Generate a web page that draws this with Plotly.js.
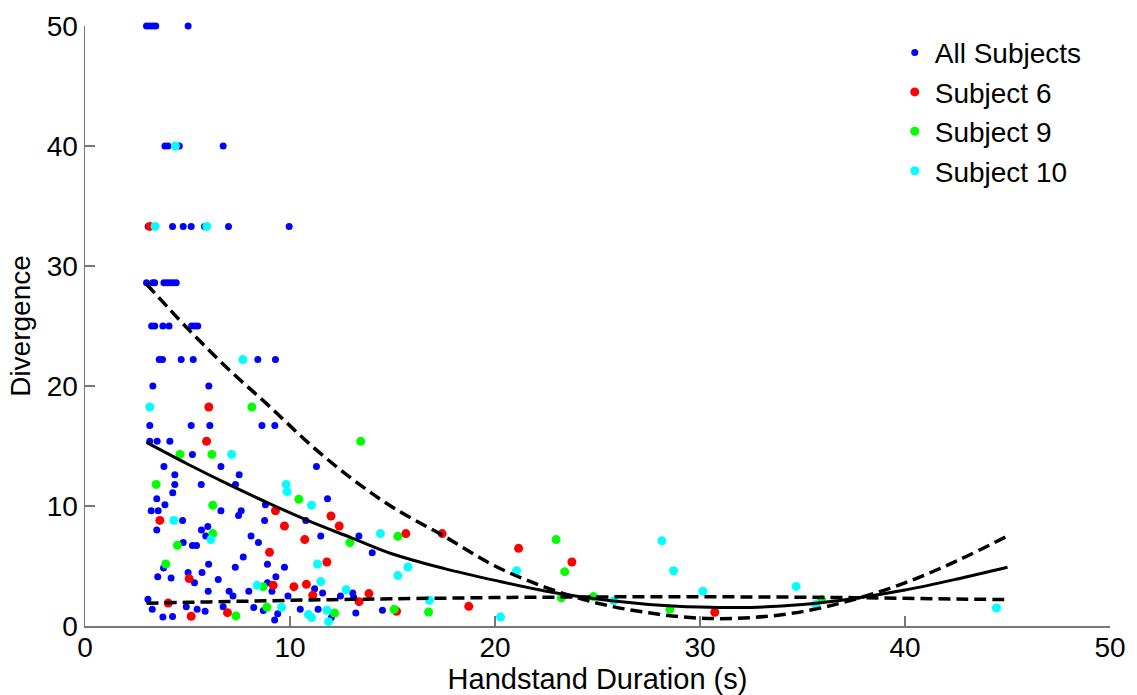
<!DOCTYPE html>
<html>
<head>
<meta charset="utf-8">
<script src="https://cdn.plot.ly/plotly-3.0.1.min.js"></script>
<style>html,body{margin:0;padding:0;background:#fff;}#chart{width:1137px;height:695px;}</style>
</head>
<body>
<div id="chart"></div>
<script>
// ---- Data ----
const allX = [3.0,3.15,3.3,3.45,5.03,
  3.9,4.05,4.6,6.74,
  3.08,4.27,4.79,5.18,5.83,7.0,9.96,
  3.0,3.3,3.4,3.85,4.0,4.15,4.3,4.45,
  3.25,3.4,3.8,4.1,5.2,5.35,5.5,
  3.62,3.78,4.69,5.28,8.43,9.29,
  3.31,6.04,
  3.16,5.18,6.09,8.63,9.26,
  3.16,3.52,4.14,
  5.24,
  3.85,6.63,11.29,
  4.38,7.52,
  4.38,5.67,7.34,
  4.28,
  3.5,11.83,
  3.9,8.8,
  3.23,3.57,6.63,7.62,
  7.49,
  4.76,8.76,10.77,
  5.99,
  3.5,5.68,
  5.89,8.1,11.5,13.36,
  4.79,8.46,
  5.24,5.44,
  14.01,
  7.72,
  6.03,8.9,
  9.73,7.33,
  3.83,
  5.03,5.71,
  9.31,3.55,
  4.2,
  6.5,
  5.34,8.9,
  11.2,
  6.01,7.03,7.99,9.12,
  11.59,13.06,
  9.9,7.22,12.46,
  13.11,
  3.07,
  4.94,6.74,
  8.23,
  5.47,10.5,11.37,3.28,8.7,
  14.51,
  5.86,
  13.21,
  9.4,
  4.27,
  3.8,
  12.02,
  9.25];
const allY = [50,50,50,50,50,
  40,40,40,40,
  33.3,33.3,33.3,33.3,33.3,33.3,33.3,
  28.6,28.6,28.6,28.6,28.6,28.6,28.6,28.6,
  25,25,25,25,25,25,25,
  22.2,22.2,22.2,22.2,22.2,22.2,
  20,20,
  16.7,16.7,16.7,16.7,16.7,
  15.4,15.4,15.4,
  14.3,
  13.3,13.3,13.3,
  12.6,12.6,
  11.8,11.8,11.8,
  11.1,
  10.6,10.6,
  10.1,10.1,
  9.6,9.6,9.6,9.6,
  9.2,
  8.8,8.8,8.8,
  8.3,
  8.0,8.0,
  7.5,7.5,7.5,7.5,
  6.95,6.95,
  6.7,6.7,
  6.1,
  5.75,
  5.15,5.15,
  4.9,4.9,
  4.83,
  4.45,4.45,
  4.1,4.1,
  4.0,
  3.87,
  3.6,3.6,
  3.1,
  2.9,2.9,2.9,2.9,
  2.75,2.75,
  2.5,2.5,2.5,
  2.37,
  2.22,
  1.6,1.6,
  1.55,
  1.4,1.4,1.4,1.4,1.3,
  1.31,
  1.22,
  1.08,
  1.03,
  0.8,
  0.74,
  0.7,
  0.5];

const s6X = [3.16,6.04,5.93,9.29,12.0,3.65,9.73,12.4,10.72,9.0,11.8,5.08,9.18,10.19,10.8,11.11,4.06,5.18,6.95,13.85,13.37,15.2,15.65,17.42,18.72,21.15,23.75,30.72];
const s6Y = [33.3,18.25,15.4,9.6,9.17,8.8,8.33,8.33,7.2,6.14,5.33,3.95,3.39,3.28,3.47,2.56,1.92,0.81,1.11,2.7,2.03,1.22,7.7,7.7,1.64,6.47,5.33,1.15];

const s9X = [8.14,4.63,6.19,3.47,10.43,6.23,6.23,4.51,3.94,8.69,7.36,8.87,13.45,12.92,15.26,12.17,15.08,16.76,22.98,23.4,23.24,24.8,28.53,35.93];
const s9Y = [18.25,14.3,14.3,11.8,10.56,10.06,7.7,6.73,5.17,3.28,0.84,1.56,15.4,6.95,7.47,1.08,1.39,1.17,7.2,4.53,2.34,2.45,1.39,2.2];

const s10X = [4.41,3.42,5.94,7.7,3.16,7.15,9.81,9.86,11.05,4.33,6.14,11.34,11.5,8.4,9.59,10.9,11.05,11.8,11.88,14.41,15.26,15.75,12.74,16.8,20.27,21.05,25.8,28.14,28.71,30.14,34.69,35.65,44.46];
const s10Y = [40,33.3,33.3,22.2,18.25,14.3,11.8,11.2,10.06,8.8,7.2,5.17,3.7,3.39,1.56,0.95,0.7,1.31,0.36,7.7,4.2,4.92,3.03,2.14,0.75,4.6,2.1,7.1,4.6,2.9,3.3,1.8,1.5];

// fitted curves
const fitX = [3,5,7,9,11,13,15,17.5,20,22.5,25,27.5,30,32.5,35,37.5,40,42.5,45];
const fitAllY = [15.3,13.5,11.8,10.2,8.7,7.35,6.0,4.8,3.8,2.9,2.25,1.8,1.58,1.55,1.8,2.3,3.0,3.9,4.9];
const fitSteepY = [28.5,24.8,21.4,18.3,15.1,12.3,9.9,7.5,5.0,3.2,1.9,1.1,0.65,0.7,1.2,2.2,3.6,5.4,7.5];
const fitFlatY = [1.9,1.97,2.04,2.1,2.17,2.22,2.27,2.32,2.37,2.4,2.42,2.44,2.44,2.42,2.4,2.36,2.31,2.25,2.2];

const legendNames = ['All Subjects','Subject 6','Subject 9','Subject 10'];
const xTicks = [0,10,20,30,40,50];
const yTicks = [0,10,20,30,40,50];

const FONT = 'Liberation Sans, Arial, sans-serif';

function pts(x, y, name, color, size) {
  return {x: x, y: y, name: name, type: 'scatter', mode: 'markers', cliponaxis: false,
    marker: {color: color, size: size, line: {width: 0}}};
}
function fit(y, dash, width) {
  return {x: fitX, y: y, type: 'scatter', mode: 'lines', showlegend: false, hoverinfo: 'skip',
    line: {color: '#000', width: width, dash: dash, shape: 'spline'}};
}

const data = [
  pts(allX, allY, legendNames[0], '#0000ff', 7),
  pts(s6X, s6Y, legendNames[1], '#ff0000', 9),
  pts(s9X, s9Y, legendNames[2], '#00ff00', 9),
  pts(s10X, s10Y, legendNames[3], '#00ffff', 9),
  fit(fitAllY, 'solid', 3),
  fit(fitSteepY, '12px,6px', 3.5),
  fit(fitFlatY, '12px,6px', 3.5)
];

const axisCommon = {
  range: [0, 50], showgrid: false, zeroline: false, showline: true,
  linecolor: '#777', linewidth: 1.5, ticks: 'inside', ticklen: 10, tickwidth: 1.5,
  tickcolor: '#777', tickfont: {family: FONT, size: 28, color: '#000'}
};

const layout = {
  width: 1137, height: 695,
  margin: {l: 85, r: 27, t: 26, b: 69},
  paper_bgcolor: '#fff', plot_bgcolor: '#fff',
  font: {family: FONT, color: '#000'},
  showlegend: true,
  legend: {x: 0.79, y: 0.997, xanchor: 'left', yanchor: 'top', bgcolor: 'rgba(0,0,0,0)',
    font: {family: FONT, size: 28, color: '#000'}, itemwidth: 30},
  xaxis: Object.assign({}, axisCommon, {tickvals: xTicks, ticklabelstandoff: -4,
    title: {text: 'Handstand Duration (s)', font: {family: FONT, size: 29, color: '#000'}, standoff: 8}}),
  yaxis: Object.assign({}, axisCommon, {tickvals: yTicks,
    title: {text: 'Divergence', font: {family: FONT, size: 28, color: '#000'}, standoff: 8}})
};

Plotly.newPlot('chart', data, layout, {staticPlot: true, displayModeBar: false});
</script>
</body>
</html>
